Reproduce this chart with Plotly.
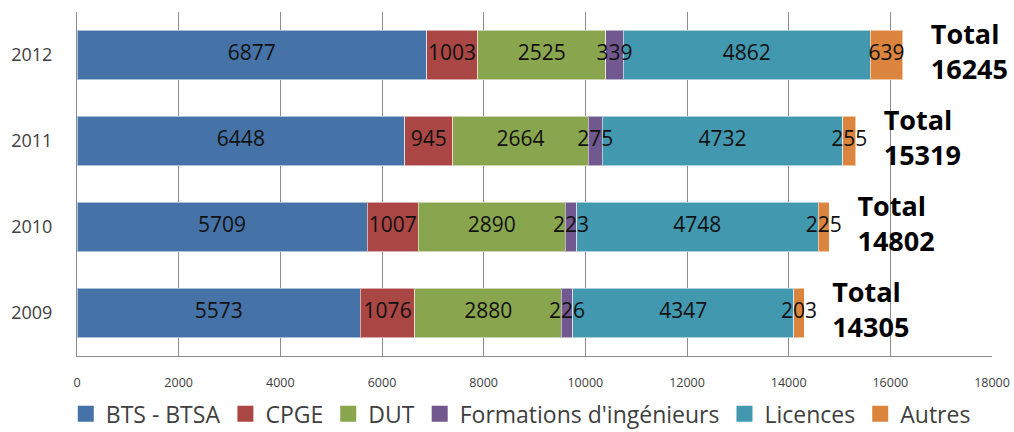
import plotly.graph_objects as go

years = ["2009", "2010", "2011", "2012"]
series_names = ["BTS - BTSA", "CPGE", "DUT", "Formations d'ingénieurs", "Licences", "Autres"]
bts = [5573, 5709, 6448, 6877]
cpge = [1076, 1007, 945, 1003]
dut = [2880, 2890, 2664, 2525]
ingenieurs = [226, 223, 275, 339]
licences = [4347, 4748, 4732, 4862]
autres = [203, 225, 255, 639]
totals = [14305, 14802, 15319, 16245]
x_ticks = [0, 2000, 4000, 6000, 8000, 10000, 12000, 14000, 16000, 18000]
x_tick_labels = ["0", "2000", "4000", "6000", "8000", "10000", "12000", "14000", "16000", "18000"]

colors = ["#4572A7", "#AA4643", "#89A54E", "#71588F", "#4198AF", "#DB843D"]
values = [bts, cpge, dut, ingenieurs, licences, autres]

FONT = "Open Sans"
X_MAX = 18000
fig = go.Figure()

# stacked segments
for name, vals, col in zip(series_names, values, colors):
    fig.add_trace(go.Bar(
        y=years, x=vals, name=name, orientation="h",
        marker=dict(color=col, line=dict(color="rgba(255,255,255,0.55)", width=1)),
        hoverinfo="skip", showlegend=False,
    ))

# value labels centred on each segment (may overflow narrow segments)
base = [0] * len(years)
for vals in values:
    mids = [b + v / 2 for b, v in zip(base, vals)]
    fig.add_trace(go.Scatter(
        x=mids, y=years, mode="text", text=[str(v) for v in vals],
        textposition="middle center",
        textfont=dict(family=FONT, size=21, color="#111111"),
        hoverinfo="skip", showlegend=False, cliponaxis=False,
    ))
    base = [b + v for b, v in zip(base, vals)]

# totals to the right of each bar
px_per_unit = 915 / X_MAX
gap_units = 28 / px_per_unit
fig.add_trace(go.Scatter(
    x=[t + gap_units for t in totals], y=years, mode="text",
    text=[f"<b>Total<br>{t}</b>" for t in totals],
    textposition="middle right",
    textfont=dict(family=FONT, size=27, color="#000000"),
    hoverinfo="skip", showlegend=False, cliponaxis=False,
))

# legend entries with large square swatches
for name, col in zip(series_names, colors):
    fig.add_trace(go.Scatter(
        x=[None], y=[None], mode="markers", name=name,
        marker=dict(symbol="square", size=17, color=col),
        hoverinfo="skip", showlegend=True,
    ))

fig.update_layout(
    barmode="stack", bargap=0.42,
    width=1014, height=432,
    margin=dict(l=77, r=22, t=12, b=76, autoexpand=False),
    paper_bgcolor="white", plot_bgcolor="white",
    font=dict(family=FONT, color="#404040"),
    showlegend=True,
    legend=dict(orientation="h", x=0.485, xanchor="center",
                y=-0.168, yanchor="middle",
                font=dict(family=FONT, size=23, color="#404040"),
                traceorder="normal"),
)
fig.update_xaxes(
    range=[0, X_MAX], tickmode="array", tickvals=x_ticks, ticktext=x_tick_labels,
    showgrid=True, gridcolor="#8c8c8c", gridwidth=1,
    showline=True, linecolor="#8c8c8c", linewidth=1,
    ticks="outside", ticklen=15, tickcolor="white",
    tickfont=dict(family=FONT, size=12.5, color="#404040"),
    zeroline=False, automargin=False,
)
fig.update_yaxes(
    type="category", range=[-0.5, 3.5],
    showline=True, linecolor="#8c8c8c", linewidth=1,
    ticks="outside", ticklen=20, tickcolor="white",
    tickfont=dict(family=FONT, size=18, color="#404040"),
    automargin=False,
)

fig.write_html("out.html")
